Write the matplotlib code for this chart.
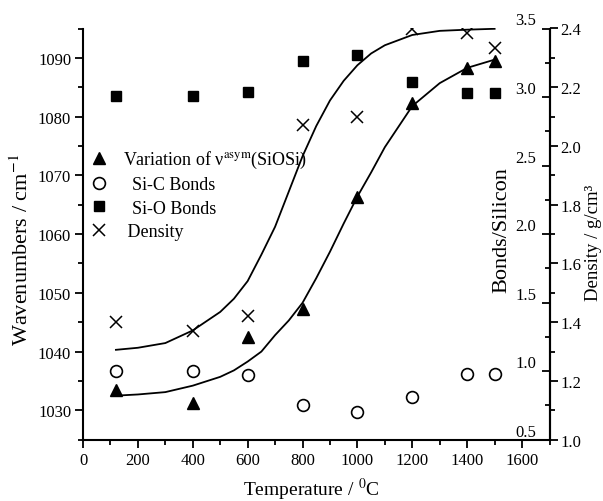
import matplotlib
matplotlib.use("Agg")
import matplotlib.pyplot as plt
from matplotlib.ticker import MultipleLocator

plt.rcParams["font.family"] = ["Liberation Serif", "DejaVu Serif"]
plt.rcParams["mathtext.fontset"] = "stix"

# measured points
temperature = [120, 400, 600, 800, 1000, 1200, 1400, 1500]
siosi_wavenumber = [1033.4, 1031.3, 1042.4, 1047.3, 1066.4, 1082.3, 1088.3, 1089.4]
sic_bonds = [1.00, 1.00, 0.97, 0.75, 0.70, 0.81, 0.98, 0.98]
sio_bonds = [3.01, 3.01, 3.04, 3.26, 3.31, 3.11, 3.03, 3.03]
density = [1.40, 1.37, 1.42, 2.07, 2.10, 2.40, 2.385, 2.335]

# fitted curves
fit_temperature = [120, 200, 300, 400, 500, 550, 600, 650, 700, 750, 800, 850,
                   900, 950, 1000, 1050, 1100, 1200, 1300, 1400, 1500]
fit_wavenumber = [1032.5, 1032.7, 1033.1, 1034.2, 1035.7, 1036.8, 1038.3, 1040.0,
                  1042.8, 1045.3, 1048.3, 1052.5, 1057.0, 1061.8, 1066.4, 1070.5,
                  1074.8, 1081.8, 1085.7, 1088.3, 1089.7]
fit_density = [1.306, 1.313, 1.329, 1.372, 1.435, 1.48, 1.54, 1.63, 1.725, 1.845,
               1.965, 2.068, 2.155, 2.222, 2.275, 2.315, 2.343, 2.378, 2.392,
               2.396, 2.399]

fig = plt.figure(figsize=(6.03, 5.02), dpi=100)
ax = fig.add_axes([83 / 603, 61.3 / 502, 466.5 / 603, 411.2 / 502])

ax.plot(fit_temperature, fit_wavenumber, color="black", lw=1.3)
h_tri, = ax.plot(temperature, siosi_wavenumber, ls="none", marker="^", ms=9,
                 color="black")

ax.set_xlim(0, 1700)
ax.set_ylim(1025, 1095)
ax.spines["top"].set_visible(False)
ax.spines["right"].set_visible(False)
for s in ["left", "bottom"]:
    ax.spines[s].set_linewidth(1.5)
ax.xaxis.set_major_locator(MultipleLocator(200))
ax.xaxis.set_minor_locator(MultipleLocator(100))
ax.yaxis.set_major_locator(MultipleLocator(10))
ax.yaxis.set_minor_locator(MultipleLocator(5))
ax.tick_params(which="major", length=6, width=1.3, labelsize=12, pad=2.5)
ax.tick_params(which="minor", length=3.5, width=1.3)
ax.set_xticks([0, 200, 400, 600, 800, 1000, 1200, 1400, 1600])

ax.set_ylabel("Wavenumbers / cm$^{-1}$", fontsize=16)
ax.yaxis.set_label_coords(-0.107, 0.464)
ax.set_xlabel("Temperature / $^{0}$C", fontsize=14)
ax.xaxis.set_label_coords(0.49, -0.088)

# Bonds/Silicon axis, ticks inside
ax2 = ax.twinx()
h_circ, = ax2.plot(temperature, sic_bonds, ls="none", marker="o", ms=8.5,
                   mfc="none", mec="black", mew=1.2)
h_sq, = ax2.plot(temperature, sio_bonds, ls="none", marker="s", ms=7.5,
                 color="black")
ax2.set_ylim(0.5, 3.5)
for s in ["top", "left", "bottom"]:
    ax2.spines[s].set_visible(False)
ax2.spines["right"].set_linewidth(1.5)
ax2.yaxis.set_major_locator(MultipleLocator(0.5))
ax2.yaxis.set_minor_locator(MultipleLocator(0.25))
ax2.tick_params(which="major", direction="in", length=6, width=1.3,
                labelsize=12, pad=-9.5)
ax2.tick_params(which="minor", direction="in", length=3.5, width=1.3)
for tl in ax2.get_yticklabels():
    tl.set_ha("right")
    tl.set_va("bottom")
fig.text(502 / 603, 1 - 230 / 502, "Bonds/Silicon", rotation=90,
         fontsize=16, ha="center", va="center")

# Density axis, ticks outside
ax3 = ax.twinx()
ax3.plot(fit_temperature, fit_density, color="black", lw=1.3)
h_x, = ax3.plot(temperature, density, ls="none", marker="x", ms=9,
                color="black", mew=1.1)
ax3.set_ylim(1.0, 2.4)
for s in ["top", "left", "bottom"]:
    ax3.spines[s].set_visible(False)
ax3.spines["right"].set_linewidth(1.5)
ax3.yaxis.set_major_locator(MultipleLocator(0.2))
ax3.yaxis.set_minor_locator(MultipleLocator(0.1))
ax3.tick_params(which="major", direction="out", length=6, width=1.3,
                labelsize=12, pad=2)
ax3.tick_params(which="minor", direction="out", length=3.5, width=1.3)
ax3.set_ylabel("Density / g/cm³", fontsize=13.5)
ax3.yaxis.set_label_coords(1.077, 0.48)

ax3.legend([h_tri, h_circ, h_sq, h_x],
           ["Variation of ν$^{\\rm asym}$(SiOSi)", "  Si-C Bonds",
            "  Si-O Bonds", " Density"],
           loc="upper left", bbox_to_anchor=(0.0, 0.725), borderaxespad=0,
           frameon=False, fontsize=13, handlelength=1.0, handletextpad=0.8,
           labelspacing=0.35)

fig.savefig("out.png", dpi=100)
